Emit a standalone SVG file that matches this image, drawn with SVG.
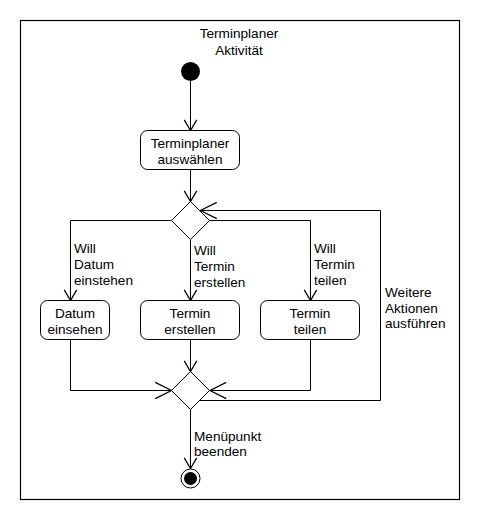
<svg xmlns="http://www.w3.org/2000/svg" width="480" height="520" viewBox="0 0 480 520">
<defs>
<style>
.t{font-family:"Liberation Sans",Arial,sans-serif;font-size:13.6px;fill:#000}
.c{text-anchor:middle}
.ln{fill:none;stroke:#000;stroke-width:1}
.nd{fill:#fff;stroke:#000;stroke-width:1}
</style>
<marker id="av" markerUnits="userSpaceOnUse" orient="auto" refX="0" refY="0" markerWidth="20" markerHeight="20" viewBox="-15 -8 16 16" overflow="visible">
<path d="M-8.5,-5 L0,0 L-8.5,5" fill="none" stroke="#000" stroke-width="1"/>
</marker>
<marker id="ah" markerUnits="userSpaceOnUse" orient="auto" refX="0" refY="0" markerWidth="20" markerHeight="20" viewBox="-15 -8 16 16" overflow="visible">
<path d="M-13,-6.5 L0,0 L-13,6.5" fill="none" stroke="#000" stroke-width="1"/>
</marker>
</defs>
<rect x="0" y="0" width="480" height="520" fill="#fff"/>
<g id="frame">
<rect x="20.5" y="20.5" width="439" height="479" fill="none" stroke="#000" stroke-width="1.2"/>
<text class="t c" x="239" y="38">Terminplaner</text>
<text class="t c" x="239" y="54.5">Aktivität</text>
</g>
<g id="connectors">
<path class="ln" d="M190.5,81 V130.5" marker-end="url(#av)"/>
<path class="ln" d="M190.5,169.5 V201.5" marker-end="url(#av)"/>
<path class="ln" d="M171.5,220.5 H70.5 V300.5" marker-end="url(#av)"/>
<path class="ln" d="M190.5,239.5 V300.5" marker-end="url(#av)"/>
<path class="ln" d="M209.5,220.5 H310.5 V300.5" marker-end="url(#av)"/>
<path class="ln" d="M70.5,339.5 V390.5 H171.5" marker-end="url(#ah)"/>
<path class="ln" d="M190.5,339.5 V371.5" marker-end="url(#av)"/>
<path class="ln" d="M310.5,339.5 V390.5 H210" marker-end="url(#ah)"/>
<path class="ln" d="M199.5,400.5 H380.5 V210.5 H200.5" marker-end="url(#ah)"/>
<path class="ln" d="M190.5,409.5 V468.5" marker-end="url(#av)"/>
<text class="t" x="74" y="252.5">Will</text>
<text class="t" x="74" y="268.5">Datum</text>
<text class="t" x="74" y="284.5">einstehen</text>
<text class="t" x="194" y="254.5">Will</text>
<text class="t" x="194" y="270.5">Termin</text>
<text class="t" x="194" y="286.5">erstellen</text>
<text class="t" x="314" y="252.5">Will</text>
<text class="t" x="314" y="268.5">Termin</text>
<text class="t" x="314" y="284.5">teilen</text>
<text class="t" x="385" y="297">Weitere</text>
<text class="t" x="385" y="312.5">Aktionen</text>
<text class="t" x="385" y="328">ausführen</text>
<text class="t" x="194" y="440.5">Menüpunkt</text>
<text class="t" x="194" y="456">beenden</text>
</g>
<g id="start">
<circle cx="190.5" cy="71.5" r="9.5" fill="#000"/>
</g>
<g id="auswaehlen">
<rect class="nd" x="140.5" y="130.5" width="99" height="39" rx="7"/>
<text class="t c" x="190" y="148">Terminplaner</text>
<text class="t c" x="190" y="164">auswählen</text>
</g>
<g id="decision">
<path class="nd" d="M190.5,201.5 L209.5,220.5 L190.5,239.5 L171.5,220.5 Z"/>
</g>
<g id="datum">
<rect class="nd" x="40.5" y="300.5" width="69" height="39" rx="7"/>
<text class="t c" x="75" y="318">Datum</text>
<text class="t c" x="75" y="333.5">einsehen</text>
</g>
<g id="erstellen">
<rect class="nd" x="140.5" y="300.5" width="99" height="39" rx="7"/>
<text class="t c" x="190" y="318">Termin</text>
<text class="t c" x="190" y="333.5">erstellen</text>
</g>
<g id="teilen">
<rect class="nd" x="260.5" y="300.5" width="99" height="39" rx="7"/>
<text class="t c" x="310" y="318">Termin</text>
<text class="t c" x="310" y="333.5">teilen</text>
</g>
<g id="merge">
<path class="nd" d="M190.5,371.5 L209.5,390.5 L190.5,409.5 L171.5,390.5 Z"/>
</g>
<g id="end">
<circle cx="190.5" cy="478.5" r="9.5" fill="#fff" stroke="#000" stroke-width="1"/>
<circle cx="190.5" cy="478.5" r="6.5" fill="#000"/>
</g>
</svg>
